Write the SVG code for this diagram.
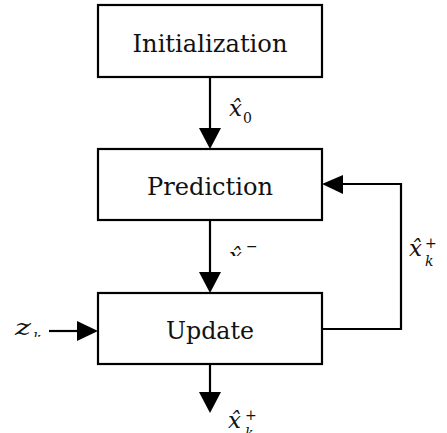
<svg xmlns="http://www.w3.org/2000/svg" width="447" height="433" viewBox="0 0 447 433">
  <style>
    .box { fill: #ffffff; stroke: #000000; stroke-width: 2.2; }
    .wire { fill: none; stroke: #000000; stroke-width: 2.2; }
    .head { fill: #000000; stroke: none; }
    text { fill: #111111; }
    .var { font-size: 23px; font-style: italic; }
    .idx { font-size: 14px; }
    .idxi { font-size: 14px; font-style: italic; }
  </style>
  <defs>
    <clipPath id="cut-mid"><rect x="220" y="225" width="60" height="31"/></clipPath>
    <clipPath id="cut-z"><rect x="0" y="300" width="60" height="37"/></clipPath>
  </defs>

  <rect width="447" height="433" fill="#ffffff"/>

  <!-- connectors -->
  <g id="connectors">
    <!-- Initialization -> Prediction -->
    <line class="wire" x1="210" y1="77" x2="210" y2="130"/>
    <polygon class="head" points="199,128 221,128 210,149"/>
    <!-- Prediction -> Update -->
    <line class="wire" x1="210" y1="220" x2="210" y2="274"/>
    <polygon class="head" points="199,272 221,272 210,293"/>
    <!-- Update -> output -->
    <line class="wire" x1="210" y1="364" x2="210" y2="394"/>
    <polygon class="head" points="199,392 221,392 210,413"/>
    <!-- measurement input -->
    <line class="wire" x1="49" y1="331" x2="79" y2="331"/>
    <polygon class="head" points="77,321 77,341 98,331"/>
    <!-- feedback loop Update -> Prediction -->
    <polyline class="wire" points="322,329 401,329 401,184 341,184"/>
    <polygon class="head" points="343,175 343,194 322,184"/>
  </g>

  <!-- nodes -->
  <g font-family="'DejaVu Serif', 'Liberation Serif', serif" font-size="25" text-anchor="middle">
    <g id="initialization">
      <rect class="box" x="98" y="5" width="224" height="72"/>
      <text x="210" y="52" textLength="155" lengthAdjust="spacingAndGlyphs">Initialization</text>
    </g>
    <g id="prediction">
      <rect class="box" x="98" y="149" width="224" height="71"/>
      <text x="210" y="195" textLength="126" lengthAdjust="spacingAndGlyphs">Prediction</text>
    </g>
    <g id="update">
      <rect class="box" x="98" y="293" width="224" height="71"/>
      <text x="210" y="339" textLength="88" lengthAdjust="spacingAndGlyphs">Update</text>
    </g>
  </g>

  <!-- signal labels: italic variable with circumflex, plus indices -->
  <g font-family="'DejaVu Serif', 'Liberation Serif', serif">
    <g id="label-x0">
      <text class="var" x="229" y="116">x̂</text>
      <text class="idx" x="243" y="123">0</text>
    </g>
    <g id="label-xminus" clip-path="url(#cut-mid)">
      <text class="var" x="229" y="264">x̂</text>
      <text class="idx" x="246" y="251">−</text>
      <text class="idxi" x="245" y="271">k</text>
    </g>
    <g id="label-xplus-loop">
      <text class="var" x="409" y="256">x̂</text>
      <text class="idx" x="425" y="248">+</text>
      <text class="idxi" x="425" y="266">k</text>
    </g>
    <g id="label-xplus-out">
      <text class="var" x="228" y="428">x̂</text>
      <text class="idx" x="245" y="420">+</text>
      <text class="idxi" x="245" y="438">k</text>
    </g>
    <g id="label-z" clip-path="url(#cut-z)">
      <text class="var" x="15" y="335" textLength="16" lengthAdjust="spacingAndGlyphs">z</text>
      <text class="idxi" x="33" y="343">k</text>
    </g>
  </g>
</svg>
